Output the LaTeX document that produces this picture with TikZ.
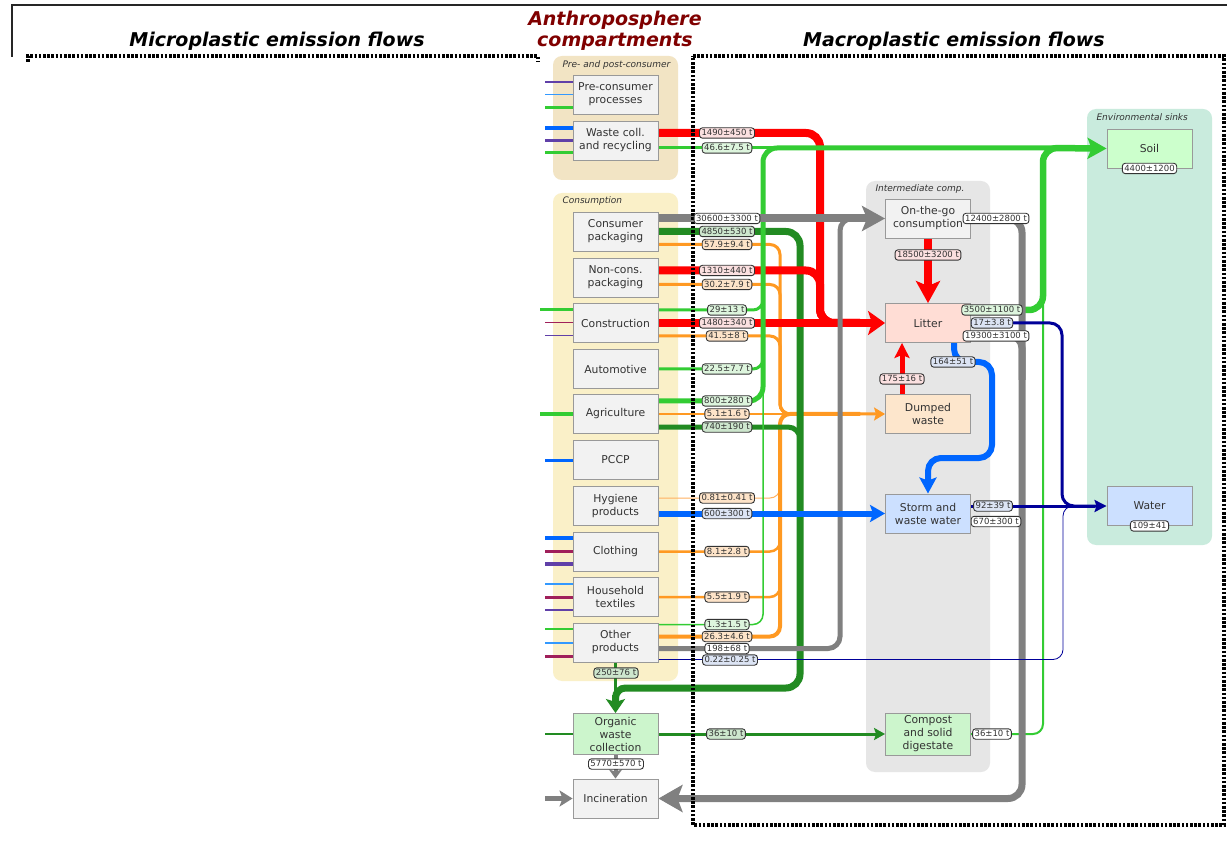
\documentclass[tikz,border=0pt]{standalone}
\usepackage{fontspec}
\setmainfont{DejaVu Sans}
\usetikzlibrary{arrows.meta,calc}
\definecolor{cRed}{HTML}{FF0000}
\definecolor{cLime}{HTML}{33CC33}
\definecolor{cDkg}{HTML}{228B22}
\definecolor{cOr}{HTML}{FF9922}
\definecolor{cOrL}{HTML}{FFB060}
\definecolor{cGray}{HTML}{808080}
\definecolor{cBlue}{HTML}{0066FF}
\definecolor{cNavy}{HTML}{000099}
\definecolor{cCrim}{HTML}{A0205A}
\definecolor{cPurp}{HTML}{6040A8}
\definecolor{cLBlue}{HTML}{3399FF}
\definecolor{fBox}{HTML}{F2F2F2}
\definecolor{bBox}{HTML}{999999}
\definecolor{fLit}{HTML}{FFDDD5}
\definecolor{fDum}{HTML}{FDE6CC}
\definecolor{fSto}{HTML}{CCE0FF}
\definecolor{fGrn}{HTML}{CCF5CC}
\definecolor{fSoil}{HTML}{CCFFCC}
\definecolor{gPre}{HTML}{F2E4C4}
\definecolor{gCon}{HTML}{FAF0C8}
\definecolor{gInt}{HTML}{E6E6E6}
\definecolor{gEnv}{HTML}{C9EBDD}
\definecolor{lRed}{HTML}{FBE0E0}
\definecolor{lLime}{HTML}{DDF5DD}
\definecolor{lDkg}{HTML}{CDE6CD}
\definecolor{lOr}{HTML}{FDE3C8}
\definecolor{lBlue}{HTML}{DCE4F4}
\definecolor{tTxt}{HTML}{333333}
\definecolor{dRed}{HTML}{800000}
\pgfdeclarelayer{bg}
\pgfdeclarelayer{flow}
\pgfsetlayers{bg,flow,main}
\tikzset{
  box/.style={draw=bBox, line width=0.9pt, fill=fBox, minimum width=85pt, minimum height=39pt,
    inner sep=1pt, align=center, text=tTxt, font=\fontsize{10.8}{13}\selectfont},
  lab/.style={draw=tTxt, line width=0.9pt, rounded corners=3pt, fill=white, inner xsep=2pt, inner ysep=1pt,
    text height=6.8pt, text depth=1.6pt, font=\fontsize{8.5}{9.5}\selectfont, text=tTxt},
  grplab/.style={anchor=base west, font=\fontsize{9}{10}\selectfont\itshape, text=tTxt},
  title/.style={anchor=base, font=\fontsize{19}{22}\selectfont\bfseries\itshape},
  dots/.style={line width=4pt, dash pattern=on 2.6pt off 1.6pt},
  sRed/.style={draw=cRed, line width=8pt},
  sGray/.style={draw=cGray, line width=7pt},
  sDkg/.style={draw=cDkg, line width=7pt},
  sLime/.style={draw=cLime, line width=3pt},
  sOr/.style={draw=cOr, line width=3pt},
  sBlue/.style={draw=cBlue, line width=6pt},
  sNavy/.style={draw=cNavy, line width=3pt},
  rc/.style={rounded corners=12pt},
}
\begin{document}
\begin{tikzpicture}[x=1pt,y=-1pt]
\useasboundingbox (0,0) rectangle (1227,842);
\begin{pgfonlayer}{bg}
\fill[white] (0,0) rectangle (1227,842);
\fill[gPre, rounded corners=9pt] (553,56) rectangle (678,180);
\fill[gCon, rounded corners=9pt] (553,193) rectangle (678,681);
\fill[gInt, rounded corners=9pt] (866,181) rectangle (990,772);
\fill[gEnv, rounded corners=9pt] (1087,109) rectangle (1212,545);
\draw[line width=2pt, black!85] (12,57) -- (12,5) -- (1230,5);
\end{pgfonlayer}

% titles
\node[title] (t1) at (277,47) {Microplastic emission flows};
\node[title, text=dRed] (t2) at (615,26) {Anthroposphere};
\node[title, text=dRed] (t3) at (615,47) {compartments};
\node[title] (t4) at (954,47) {Macroplastic emission flows};

% group labels
\node[grplab] (g1) at (559,68) {Pre- and post-consumer};
\node[grplab] (g2) at (559,204) {Consumption};
\node[grplab] (g3) at (872,192) {Intermediate comp.};
\node[grplab] (g4) at (1093,121) {Environmental sinks};

% nodes
\node[box] (pre) at (615.5,94.5) {Pre-consumer\\processes};
\node[box] (wcr) at (615.5,140.5) {Waste coll.\\and recycling};
\node[box] (cpk) at (615.5,231.5) {Consumer\\packaging};
\node[box] (ncp) at (615.5,277.5) {Non-cons.\\packaging};
\node[box] (con) at (615.5,323) {Construction};
\node[box] (aut) at (615.5,369) {Automotive};
\node[box] (agr) at (615.5,414) {Agriculture};
\node[box] (pccp) at (615.5,460) {PCCP};
\node[box] (hyg) at (615.5,506) {Hygiene\\products};
\node[box] (clo) at (615.5,551.5) {Clothing};
\node[box] (hht) at (615.5,597) {Household\\textiles};
\node[box] (oth) at (615.5,642.5) {Other\\products};
\node[box, fill=fGrn, minimum height=41pt] (owc) at (615.5,734) {Organic\\waste\\collection};
\node[box] (inc) at (615.5,798.5) {Incineration};
\node[box] (otg) at (928,218.5) {On-the-go\\consumption};
\node[box, fill=fLit] (lit) at (928,323) {Litter};
\node[box, fill=fDum] (dum) at (928,414) {Dumped\\waste};
\node[box, fill=fSto] (sww) at (928,513.5) {Storm and\\waste water};
\node[box, fill=fGrn, minimum height=42pt] (cmp) at (928,734) {Compost\\and solid\\digestate};
\node[box, fill=fSoil] (soil) at (1149.5,148.5) {Soil};
\node[box, fill=fSto] (water) at (1149.5,506) {Water};

\begin{pgfonlayer}{flow}
% input stubs
\coordinate (i1) at (545,82);   \draw[cPurp, line width=1.3pt] (i1) -- (i1 -| pre.west);
\coordinate (i2) at (545,94.5); \draw[cLBlue, line width=1.5pt] (i2) -- (i2 -| pre.west);
\coordinate (i3) at (545,108);  \draw[cLime, line width=3pt] (i3) -- (i3 -| pre.west);
\coordinate (i4) at (545,128);  \draw[cBlue, line width=3.5pt] (i4) -- (i4 -| wcr.west);
\coordinate (i5) at (545,140.5);\draw[cPurp, line width=3.5pt] (i5) -- (i5 -| wcr.west);
\coordinate (i6) at (545,153);  \draw[cLime, line width=3pt] (i6) -- (i6 -| wcr.west);
\coordinate (i7) at (540,310);  \draw[cLime, line width=3pt] (i7) -- (i7 -| con.west);
\coordinate (i8) at (545,323);  \draw[cCrim, line width=1pt] (i8) -- (i8 -| con.west);
\coordinate (i9) at (545,336);  \draw[cPurp, line width=1pt] (i9) -- (i9 -| con.west);
\coordinate (i10) at (540,414); \draw[cLime, line width=4pt] (i10) -- (i10 -| agr.west);
\coordinate (i11) at (545,460); \draw[cBlue, line width=3pt] (i11) -- (i11 -| pccp.west);
\coordinate (i12) at (545,538); \draw[cBlue, line width=3.5pt] (i12) -- (i12 -| clo.west);
\coordinate (i13) at (545,551.5); \draw[cCrim, line width=3.5pt] (i13) -- (i13 -| clo.west);
\coordinate (i14) at (545,564); \draw[cPurp, line width=3.5pt] (i14) -- (i14 -| clo.west);
\coordinate (i15) at (545,584); \draw[cLBlue, line width=1.5pt] (i15) -- (i15 -| hht.west);
\coordinate (i16) at (545,597); \draw[cCrim, line width=3pt] (i16) -- (i16 -| hht.west);
\coordinate (i17) at (545,610); \draw[cPurp, line width=1.5pt] (i17) -- (i17 -| hht.west);
\coordinate (i18) at (545,629); \draw[cLime, line width=1.5pt] (i18) -- (i18 -| oth.west);
\coordinate (i19) at (545,643); \draw[cLBlue, line width=1.5pt] (i19) -- (i19 -| oth.west);
\coordinate (i20) at (545,656); \draw[cCrim, line width=3pt] (i20) -- (i20 -| oth.west);
\coordinate (i21) at (545,734); \draw[cDkg, line width=2.5pt] (i21) -- (owc.west);
\coordinate (i22) at (545,798.5);
\draw[cGray, line width=5pt, -{Stealth[length=13pt,width=16pt,inset=3pt]}] (i22) -- (inc.west);

% orange flows to dumped waste
\draw[sOr, rounded corners=10pt, -{Stealth[length=11pt,width=13pt,inset=2pt]}] ($(cpk.east)+(0,13)$) -- (780,244.5) -- (780,414) -- (dum.west);
\draw[sOr, rounded corners=10pt] ($(ncp.east)+(0,7)$) -- (780,284.5) -- (780,414) -- (860,414);
\draw[sOr, rounded corners=10pt] ($(con.east)+(0,13)$) -- (780,336) -- (780,414) -- (860,414);
\draw[sOr, line width=1.5pt] (agr.east) -- (860,414);
\draw[draw=cOrL, line width=1pt, rounded corners=10pt] ($(hyg.east)+(0,-8)$) -- (780,498) -- (780,414) -- (860,414);
\draw[sOr, line width=2.5pt, rounded corners=10pt] (clo.east) -- (780,551.5) -- (780,414) -- (860,414);
\draw[sOr, line width=2.5pt, rounded corners=10pt] (hht.east) -- (780,597) -- (780,414) -- (860,414);
\draw[sOr, line width=4pt, rounded corners=10pt] ($(oth.east)+(0,-6)$) -- (780,636.5) -- (780,414) -- (860,414);

% dark green flows to organic waste collection
\draw[sDkg, rounded corners=14pt] (cpk.east) -- (800,231.5) -- (800,688) [rounded corners=10pt] -- (615.5,688) -- (615.5,700);
\draw[sDkg, line width=5pt, rounded corners=12pt] ($(agr.east)+(0,13)$) -- (800,427) -- (800,480);
\draw[draw=cDkg, line width=7pt, -{Stealth[length=14pt,width=19pt,inset=3pt]}] (615.5,695) -- (owc.north);
\draw[draw=cDkg, line width=3pt] (oth.south) -- (615.5,700);
\draw[draw=cDkg, line width=3pt, -{Stealth[length=11pt,width=12pt,inset=2pt]}] (owc.east) -- (cmp.west);

% red flows to litter
\draw[sRed, rounded corners=14pt] ($(wcr.east)+(0,-7.5)$) -- (820,133) -- (820,323) -- (860,323);
\draw[sRed, rounded corners=14pt] ($(ncp.east)+(0,-7)$) -- (820,270.5) -- (820,323) -- (860,323);
\draw[sRed, -{Stealth[length=17pt,width=24pt,inset=4pt]}] (con.east) -- (lit.west);
\draw[sRed, -{Stealth[length=22pt,width=24pt,inset=5pt]}] (otg.south) -- (lit.north);
\draw[draw=cRed, line width=5pt, -{Stealth[length=15pt,width=15pt,inset=3pt]}] ($(dum.north)+(-26,0)$) -- ($(lit.south)+(-26,0)$);

% lime flows to soil
\draw[sLime, line width=1.5pt, rounded corners=10pt] ($(oth.east)+(0,-18)$) -- (763,624.5) -- (763,390);
\draw[sLime, rounded corners=10pt] (aut.east) -- (763,369) -- (763,330);
\draw[sLime, rounded corners=10pt] ($(con.east)+(0,-13)$) -- (763,310) -- (763,280);
\draw[sLime, line width=5pt, rounded corners=14pt] ($(agr.east)+(0,-13)$) -- (763,401) -- (763,148) -- (1060,148);
\draw[sLime] ($(wcr.east)+(0,7.5)$) -- (775,148);
\draw[sLime, line width=2pt, rounded corners=10pt] (cmp.east) -- (1043,734) -- (1043,200);
\draw[sLime, line width=6.5pt, rounded corners=14pt, -{Stealth[length=19pt,width=21pt,inset=4pt]}] ($(lit.east)+(0,-13)$) -- (1043,310) -- (1043,148) -- (soil.west);

% gray flows
\draw[sGray, line width=8pt, -{Stealth[length=23pt,width=25pt,inset=5pt]}] ($(cpk.east)+(0,-13)$) -- (otg.west);
\draw[sGray, line width=5pt, rounded corners=12pt] ($(oth.east)+(0,6)$) -- (840,648.5) -- (840,218.5) -- (860,218.5);
\draw[sGray, rounded corners=14pt, -{Stealth[length=24pt,width=27pt,inset=5pt]}] (otg.east) -- (1022,218.5) -- (1022,798.5) -- (inc.east);
\draw[sGray, rounded corners=12pt] ($(lit.east)+(0,13)$) -- (1022,336) -- (1022,380);
\draw[sGray, line width=4pt] ($(sww.east)+(0,8)$) -- (1022,521.5);
\draw[sGray, line width=4pt, -{Stealth[length=9pt,width=13pt,inset=2pt]}] (owc.south) -- (inc.north);

% blue flows
\draw[sBlue, -{Stealth[length=15pt,width=17pt,inset=3pt]}] ($(hyg.east)+(0,7.5)$) -- (sww.west);
\draw[sBlue, rounded corners=13pt, -{Stealth[length=16pt,width=17pt,inset=3pt]}] ($(lit.south)+(26,0)$) -- (954,362) -- (992,362) -- (992,458) -- (928,458) -- (sww.north);

% navy flows to water
\draw[sNavy, rc, -{Stealth[length=12pt,width=12pt,inset=2pt]}] (lit.east) -- (1062,323) -- (1062,506) -- (water.west);
\draw[sNavy] ($(sww.east)+(0,-7.5)$) -- (1095,506);
\draw[sNavy, line width=0.8pt, rounded corners=10pt] ($(oth.east)+(0,17)$) -- (1063,659.5) -- (1063,506) -- (1095,506);

% dotted frames
\draw[dots] (28,62) -- (28,56) -- (538,56) -- (538,62);
\draw[dots] (693,56) -- (1224,56) -- (1224,825) -- (693,825) -- cycle;
\end{pgfonlayer}

% flow labels
\node[lab, fill=lRed]  (l01) at (727,133) {1490±450 t};
\node[lab, fill=lLime] (l02) at (727,148) {46.6±7.5 t};
\node[lab]             (l03) at (727,218.5) {30600±3300 t};
\node[lab, fill=lDkg]  (l04) at (727,231.5) {4850±530 t};
\node[lab, fill=lOr]   (l05) at (727,244.5) {57.9±9.4 t};
\node[lab, fill=lRed]  (l06) at (727,270.5) {1310±440 t};
\node[lab, fill=lOr]   (l07) at (727,284.5) {30.2±7.9 t};
\node[lab, fill=lLime] (l08) at (727,310) {29±13 t};
\node[lab, fill=lRed]  (l09) at (727,323) {1480±340 t};
\node[lab, fill=lOr]   (l10) at (727,336) {41.5±8 t};
\node[lab, fill=lLime] (l11) at (727,369) {22.5±7.7 t};
\node[lab, fill=lLime] (l12) at (727,401) {800±280 t};
\node[lab, fill=lOr]   (l13) at (727,414) {5.1±1.6 t};
\node[lab, fill=lDkg]  (l14) at (727,427) {740±190 t};
\node[lab, fill=lOr]   (l15) at (727,498) {0.81±0.41 t};
\node[lab, fill=lBlue] (l16) at (727,513.5) {600±300 t};
\node[lab, fill=lOr]   (l17) at (727,551.5) {8.1±2.8 t};
\node[lab, fill=lOr]   (l18) at (727,597) {5.5±1.9 t};
\node[lab, fill=lLime] (l19) at (727,624.5) {1.3±1.5 t};
\node[lab, fill=lOr]   (l20) at (727,636.5) {26.3±4.6 t};
\node[lab]             (l21) at (727,648.5) {198±68 t};
\node[lab, fill=lBlue] (l22) at (730,660) {0.22±0.25 t};
\node[lab, fill=lDkg]  (l23) at (616,673) {250±76 t};
\node[lab, fill=lDkg]  (l24) at (726,734) {36±10 t};
\node[lab]             (l25) at (616,764) {5770±570 t};
\node[lab, fill=lRed]  (l26) at (928,255) {18500±3200 t};
\node[lab]             (l27) at (996,218.5) {12400±2800 t};
\node[lab, fill=lLime] (l28) at (992,310) {3500±1100 t};
\node[lab, fill=lBlue] (l29) at (992,323) {17±3.8 t};
\node[lab]             (l30) at (996,336) {19300±3100 t};
\node[lab, fill=lBlue] (l31) at (953,362) {164±51 t};
\node[lab, fill=lRed]  (l32) at (902,379) {175±16 t};
\node[lab, fill=lBlue] (l33) at (993,506) {92±39 t};
\node[lab]             (l34) at (996,521.5) {670±300 t};
\node[lab]             (l35) at (992,734) {36±10 t};
\node[lab]             (l36) at (soil.south) {4400±1200};
\node[lab]             (l37) at (water.south) {109±41};
\end{tikzpicture}
\end{document}
